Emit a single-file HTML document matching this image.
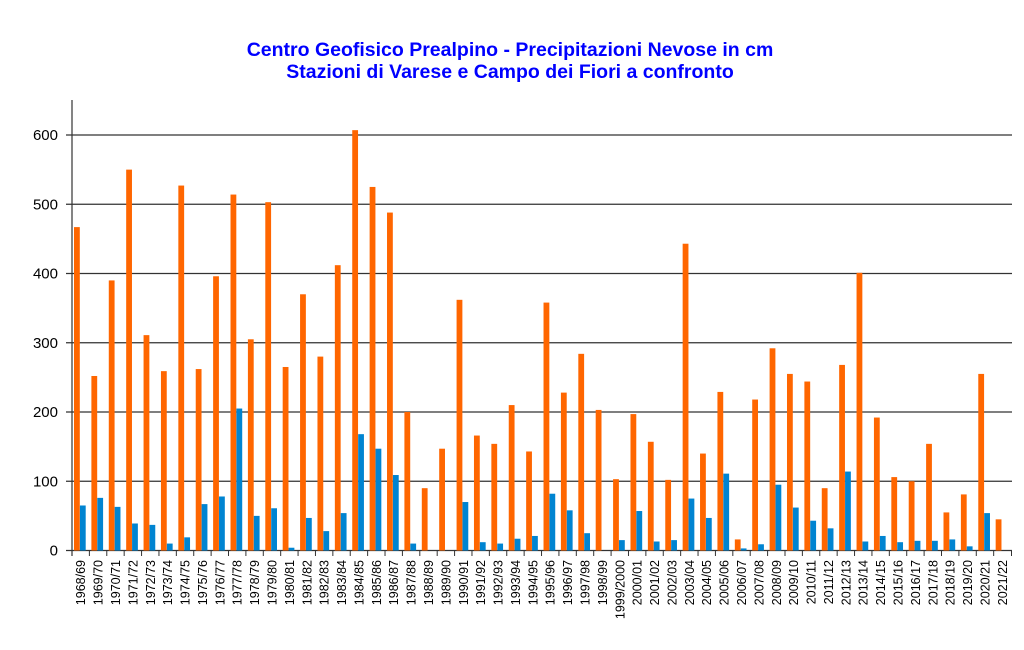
<!DOCTYPE html>
<html><head><meta charset="utf-8"><style>body{margin:0;background:#fff}svg{display:block}</style></head><body>
<svg id="c" width="1024" height="650" xmlns="http://www.w3.org/2000/svg" font-family="Liberation Sans, sans-serif">
<text x="510" y="56" text-anchor="middle" font-size="19.5" font-weight="bold" fill="#0000ff">Centro Geofisico Prealpino - Precipitazioni Nevose in cm</text>
<text x="510" y="78" text-anchor="middle" font-size="19.5" font-weight="bold" fill="#0000ff">Stazioni di Varese e Campo dei Fiori a confronto</text>
<g id="g"></g>
</svg>
<script>
var d=[[467,65],[252,76],[390,63],[550,39],[311,37],[259,10],[527,19],[262,67],[396,78],[514,205],[305,50],[503,61],[265,4],[370,47],[280,28],[412,54],[607,168],[525,147],[488,109],[200,10],[90,0],[147,0],[362,70],[166,12],[154,10],[210,17],[143,21],[358,82],[228,58],[284,25],[203,0],[103,15],[197,57],[157,13],[102,15],[443,75],[140,47],[229,111],[16,3],[218,9],[292,95],[255,62],[244,43],[90,32],[268,114],[401,13],[192,21],[106,12],[100,14],[154,14],[55,16],[81,6],[255,54],[45,0]];
var s='',x0=72,w=17.39,y0=550.5,k=0.6925;
for(var v=0;v<=600;v+=100){var y=y0-v*k;s+='<line x1="66" x2="1012" y1="'+y+'" y2="'+y+'" stroke="#333" stroke-width="1.2"/>';s+='<text x="58" y="'+(y+5)+'" text-anchor="end" font-size="15">'+v+'</text>';}
s+='<line x1="72" x2="72" y1="100" y2="556" stroke="#333" stroke-width="1.2"/>';
for(var i=0;i<d.length;i++){var x=x0+i*w;
s+='<rect x="'+(x+2)+'" y="'+(y0-d[i][0]*k)+'" width="5.8" height="'+(d[i][0]*k)+'" fill="#ff6600"/>';
if(d[i][1]>0)s+='<rect x="'+(x+7.9)+'" y="'+(y0-d[i][1]*k)+'" width="5.8" height="'+(d[i][1]*k)+'" fill="#0084d1"/>';
s+='<line x1="'+x+'" x2="'+x+'" y1="550" y2="556" stroke="#333"/>';
var ys=1968+i,lab=ys+'/'+(ys==1999?'2000':String((ys+1)%100).padStart(2,'0'));
var cx=x+w/2+4.5;
s+='<text transform="translate('+cx+',560) rotate(-90)" text-anchor="end" font-size="12.5">'+lab+'</text>';}
s+='<line x1="1011.5" x2="1011.5" y1="550" y2="556" stroke="#333"/>';
document.getElementById('g').innerHTML=s;
</script>
</body></html>
